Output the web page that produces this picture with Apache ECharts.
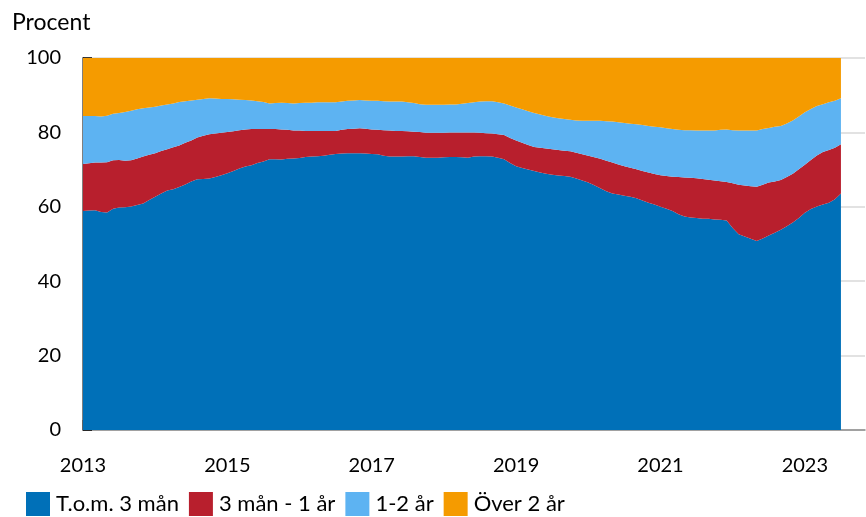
<!DOCTYPE html>
<html>
<head>
<meta charset="utf-8">
<script src="https://cdn.jsdelivr.net/npm/echarts@6/dist/echarts.min.js"></script>
<style>
  html, body { margin: 0; padding: 0; background: #fff; }
  #chart { width: 866px; height: 517px; }
</style>
</head>
<body>
<div id="chart"></div>
<script>
// Andel per löptid, procent, månadsvärden jan 2013 - jul 2023
var seriesNames = ['T.o.m. 3 mån', '3 mån - 1 år', '1-2 år', 'Över 2 år'];
var yearLabels = ['2013', '2015', '2017', '2019', '2021', '2023'];

var tom3man = [
  58.9, 59.0, 59.1, 58.6, 58.5, 59.5, 59.8, 59.9, 60.1, 60.5, 60.9, 61.8,
  62.7, 63.6, 64.4, 64.7, 65.3, 66.0, 66.8, 67.4, 67.5, 67.6, 68.0, 68.5,
  69.0, 69.6, 70.3, 70.8, 71.2, 71.8, 72.2, 72.8, 72.8, 72.7, 72.9, 73.0,
  73.1, 73.4, 73.5, 73.6, 73.7, 74.0, 74.2, 74.3, 74.4, 74.4, 74.4, 74.3,
  74.2, 74.1, 73.7, 73.5, 73.5, 73.5, 73.6, 73.6, 73.4, 73.2, 73.2, 73.2,
  73.3, 73.4, 73.4, 73.3, 73.2, 73.5, 73.6, 73.6, 73.5, 73.2, 72.8, 71.8,
  70.9, 70.4, 70.0, 69.6, 69.2, 68.9, 68.6, 68.4, 68.3, 68.1, 67.6, 67.1,
  66.5, 65.8, 65.0, 64.2, 63.6, 63.3, 63.0, 62.7, 62.3, 61.7, 61.1, 60.6,
  60.0, 59.5, 58.9, 58.0, 57.4, 57.1, 57.0, 56.8, 56.8, 56.6, 56.5, 56.3,
  54.3, 52.6, 52.0, 51.4, 50.8, 51.5, 52.3, 53.0, 53.8, 54.8, 55.8, 57.0,
  58.4, 59.4, 60.1, 60.6, 61.1, 62.0, 63.6
];
var man3till1ar = [
  12.6, 12.7, 12.8, 13.3, 13.5, 13.0, 12.8, 12.5, 12.4, 12.5, 12.6, 12.2,
  11.7, 11.4, 11.1, 11.3, 11.2, 11.2, 11.0, 11.2, 11.6, 11.9, 11.7, 11.4,
  11.1, 10.7, 10.3, 10.0, 9.7, 9.1, 8.7, 8.1, 8.1, 8.1, 7.8, 7.5,
  7.4, 7.0, 6.9, 6.8, 6.7, 6.4, 6.2, 6.4, 6.5, 6.6, 6.7, 6.7,
  6.6, 6.6, 6.9, 7.0, 6.9, 6.9, 6.7, 6.6, 6.7, 6.7, 6.7, 6.7,
  6.6, 6.6, 6.6, 6.7, 6.8, 6.5, 6.3, 6.2, 6.2, 6.3, 6.5, 6.7,
  6.9, 6.8, 6.6, 6.5, 6.7, 6.8, 6.9, 6.9, 6.8, 6.8, 6.9, 7.0,
  7.2, 7.5, 7.9, 8.2, 8.3, 8.1, 7.9, 7.8, 7.8, 7.9, 8.1, 8.2,
  8.5, 8.8, 9.2, 10.0, 10.5, 10.7, 10.7, 10.7, 10.5, 10.5, 10.4, 10.4,
  12.0, 13.3, 13.7, 14.1, 14.6, 14.4, 14.2, 13.8, 13.4, 13.2, 13.1, 13.1,
  12.9, 13.2, 13.7, 14.1, 14.2, 13.9, 13.2
];
var ar1till2 = [
  12.9, 12.7, 12.5, 12.4, 12.5, 12.5, 12.6, 13.1, 13.3, 13.2, 13.0, 12.7,
  12.5, 12.2, 12.0, 11.8, 11.7, 11.2, 10.8, 10.2, 9.9, 9.7, 9.4, 9.1,
  8.9, 8.6, 8.2, 7.9, 7.7, 7.5, 7.3, 6.9, 7.0, 7.2, 7.2, 7.3,
  7.4, 7.6, 7.6, 7.7, 7.7, 7.7, 7.7, 7.6, 7.6, 7.6, 7.6, 7.6,
  7.7, 7.8, 7.8, 7.8, 7.9, 7.9, 7.8, 7.7, 7.5, 7.5, 7.5, 7.5,
  7.5, 7.5, 7.5, 7.7, 7.9, 8.1, 8.4, 8.6, 8.7, 8.6, 8.5, 8.7,
  8.9, 9.0, 9.1, 9.1, 8.9, 8.7, 8.6, 8.5, 8.5, 8.5, 8.7, 9.0,
  9.4, 9.8, 10.2, 10.6, 11.0, 11.3, 11.6, 11.8, 12.1, 12.4, 12.5, 12.7,
  12.9, 12.8, 12.8, 12.7, 12.7, 12.8, 12.8, 13.0, 13.2, 13.4, 13.8, 14.1,
  14.3, 14.6, 14.8, 15.0, 15.1, 15.0, 14.7, 14.7, 14.5, 14.4, 14.3, 14.2,
  14.1, 13.7, 13.3, 12.9, 12.8, 12.6, 12.4
];
var over2ar = [
  15.6, 15.6, 15.6, 15.7, 15.5, 15.0, 14.8, 14.5, 14.2, 13.8, 13.5, 13.3,
  13.1, 12.8, 12.5, 12.2, 11.8, 11.6, 11.4, 11.2, 11.0, 10.8, 10.9, 11.0,
  11.0, 11.1, 11.2, 11.3, 11.4, 11.6, 11.8, 12.2, 12.1, 12.0, 12.1, 12.2,
  12.1, 12.0, 12.0, 11.9, 11.9, 11.9, 11.9, 11.7, 11.5, 11.4, 11.3, 11.4,
  11.5, 11.5, 11.6, 11.7, 11.7, 11.7, 11.9, 12.1, 12.4, 12.6, 12.6, 12.6,
  12.6, 12.5, 12.5, 12.3, 12.1, 11.9, 11.7, 11.6, 11.6, 11.9, 12.2, 12.8,
  13.3, 13.8, 14.3, 14.8, 15.2, 15.6, 15.9, 16.2, 16.4, 16.6, 16.8, 16.9,
  16.9, 16.9, 16.9, 17.0, 17.1, 17.3, 17.5, 17.7, 17.8, 18.0, 18.3, 18.5,
  18.6, 18.9, 19.1, 19.3, 19.4, 19.4, 19.5, 19.5, 19.5, 19.5, 19.3, 19.2,
  19.4, 19.5, 19.5, 19.5, 19.5, 19.1, 18.8, 18.5, 18.3, 17.6, 16.8, 15.7,
  14.6, 13.7, 12.9, 12.4, 11.9, 11.5, 10.8
];

// månader jan 2013 - nov 2023 (axeln går lite längre än datan)
var months = [];
for (var y = 2013; y <= 2023; y++) {
    for (var m = 1; m <= 12; m++) {
        if (y === 2023 && m > 11) break;
        months.push(y + '-' + (m < 10 ? '0' + m : m));
    }
}

var colors = ['#0070B8', '#B81F2D', '#5DB3F2', '#F59B00'];
var fontFamily = 'Lato, "Open Sans", sans-serif';

function isYearTick(index, value) {
    return value.slice(5) === '01' && yearLabels.indexOf(value.slice(0, 4)) >= 0;
}

var myChart = echarts.init(document.getElementById('chart'));

var seriesData = [tom3man, man3till1ar, ar1till2, over2ar];
var series = seriesNames.map(function (name, i) {
    return {
        name: name,
        type: 'line',
        stack: 'total',
        symbol: 'none',
        lineStyle: { width: 0 },
        areaStyle: { color: colors[i], opacity: 1 },
        itemStyle: { color: colors[i] },
        data: seriesData[i]
    };
});

var option = {
    backgroundColor: '#fff',
    animation: false,
    textStyle: { fontFamily: fontFamily },
    title: {
        text: 'Procent',
        left: 7,
        top: 6,
        textStyle: { fontSize: 23, fontWeight: 'normal', color: '#000', fontFamily: fontFamily }
    },
    legend: {
        data: seriesNames,
        left: 26,
        top: 492,
        padding: 0,
        itemWidth: 24,
        itemHeight: 24,
        itemGap: 10,
        icon: 'rect',
        textStyle: { fontSize: 22, color: '#000', padding: [0, 0, 0, 1] }
    },
    grid: {
        left: 83,
        right: 1,
        top: 58,
        bottom: 87
    },
    xAxis: {
        type: 'category',
        boundaryGap: false,
        data: months,
        axisLine: { show: true, lineStyle: { color: '#8c8c8c', width: 1.5 } },
        axisTick: {
            show: true,
            inside: true,
            length: 10,
            interval: isYearTick,
            lineStyle: { color: '#595959', width: 1.5 }
        },
        axisLabel: {
            interval: isYearTick,
            formatter: function (v) { return v.slice(0, 4); },
            fontSize: 20,
            color: '#000',
            margin: 26
        },
        splitLine: { show: false }
    },
    yAxis: {
        type: 'value',
        min: 0,
        max: 100,
        interval: 20,
        axisLine: { show: true, lineStyle: { color: '#7f7f7f', width: 2 } },
        axisTick: { show: true, inside: true, length: 9, lineStyle: { color: '#000', width: 1.5 } },
        axisLabel: { fontSize: 20, color: '#000', margin: 22 },
        splitLine: { show: true, lineStyle: { color: '#d9d9d9', width: 1.5 } }
    },
    series: series
};

myChart.setOption(option);
</script>
</body>
</html>
